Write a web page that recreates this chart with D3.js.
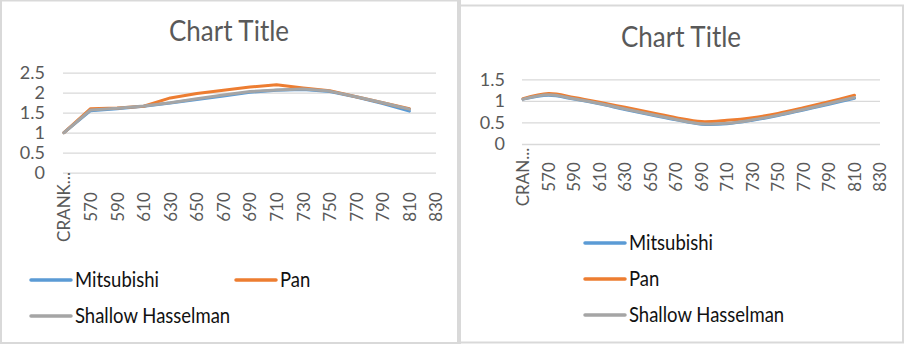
<!DOCTYPE html>
<html>
<head>
<meta charset="utf-8">
<script src="https://cdn.jsdelivr.net/npm/d3@7"></script>
<style>
  body { margin: 0; background: #fff; }
  svg text { font-family: Lato, "Open Sans", sans-serif; }
</style>
</head>
<body>
<svg id="chart" width="906" height="344"></svg>
<script>
// x categories (830 has no value)
var categories = ["CRANK", "570", "590", "610", "630", "650", "670", "690", "710", "730", "750", "770", "790", "810", "830"];
var leftTickLabels = ["CRANK...", "570", "590", "610", "630", "650", "670", "690", "710", "730", "750", "770", "790", "810", "830"];
var rightTickLabels = ["CRAN...", "570", "590", "610", "630", "650", "670", "690", "710", "730", "750", "770", "790", "810", "830"];

var seriesNames = ["Mitsubishi", "Pan", "Shallow Hasselman"];
var seriesColors = ["#5b9bd5", "#ed7d31", "#a5a5a5"];

// left chart values
var mitsubishiLeft = [1.00, 1.55, 1.60, 1.66, 1.74, 1.83, 1.92, 2.01, 2.06, 2.08, 2.03, 1.89, 1.73, 1.54];
var panLeft        = [1.00, 1.60, 1.62, 1.66, 1.87, 1.98, 2.06, 2.14, 2.20, 2.12, 2.05, 1.90, 1.75, 1.60];
var shallowLeft    = [1.00, 1.57, 1.61, 1.67, 1.75, 1.85, 1.94, 2.03, 2.07, 2.09, 2.04, 1.90, 1.75, 1.59];
var leftYTicks = [0, 0.5, 1, 1.5, 2, 2.5];

// right chart values
var mitsubishiRight = [1.04, 1.13, 1.04, 0.93, 0.80, 0.68, 0.56, 0.46, 0.47, 0.55, 0.66, 0.79, 0.92, 1.06];
var panRight        = [1.05, 1.17, 1.08, 0.97, 0.85, 0.73, 0.61, 0.52, 0.55, 0.61, 0.71, 0.84, 0.98, 1.13];
var shallowRight    = [1.04, 1.14, 1.05, 0.94, 0.81, 0.69, 0.57, 0.47, 0.48, 0.56, 0.67, 0.80, 0.94, 1.08];
var rightYTicks = [0, 0.5, 1, 1.5];

var svg = d3.select("#chart");
var borderColor = "#d9d9d9";

// panel borders
svg.append("rect").attr("x", 1).attr("y", 0.5).attr("width", 457).attr("height", 342.5)
  .attr("fill", "none").attr("stroke", borderColor).attr("stroke-width", 2);
svg.append("rect").attr("x", 460).attr("y", 5.5).attr("width", 443).attr("height", 337)
  .attr("fill", "none").attr("stroke", borderColor).attr("stroke-width", 2);
svg.append("rect").attr("x", 457).attr("y", 0).attr("width", 4).attr("height", 344).attr("fill", borderColor);

function drawChart(opts) {
  var g = svg.append("g");

  var x = d3.scalePoint().domain(categories).range(opts.xRange);
  var y = d3.scaleLinear().domain(opts.yDomain).range(opts.yRange);

  // title (text in the picture is a bit taller than wide)
  g.append("text")
    .attr("transform", `translate(${opts.titleX},${opts.titleY}) scale(1,1.12)`)
    .attr("text-anchor", "middle")
    .attr("font-size", 26)
    .attr("fill", "#595959")
    .text("Chart Title");

  // y axis with gridlines
  var yAxis = g.append("g")
    .attr("transform", `translate(${opts.xRange[0] - 1},0)`)
    .call(d3.axisLeft(y).tickValues(opts.yTicks).tickFormat(d3.format("~g"))
      .tickSize(-(opts.xRange[1] - opts.xRange[0] + 1)).tickPadding(opts.yPad));
  yAxis.select(".domain").remove();
  yAxis.selectAll("line").attr("stroke", borderColor).attr("stroke-width", 1.3);
  yAxis.selectAll("text").attr("font-size", 18).attr("fill", "#595959").attr("font-family", null);

  // x axis labels, rotated
  var xAxis = g.append("g")
    .attr("transform", `translate(0,${opts.labelY})`)
    .call(d3.axisBottom(x).tickSize(0).tickPadding(0).tickFormat((d, i) => opts.tickLabels[i]));
  xAxis.select(".domain").remove();
  xAxis.selectAll("text")
    .attr("font-size", 17).attr("fill", "#595959").attr("font-family", null)
    .attr("y", 0).attr("dy", "0.35em")
    .attr("transform", "rotate(-90)")
    .style("text-anchor", "middle");

  // lines
  var line = d3.line()
    .x((d, i) => x(categories[i]))
    .y(d => y(d))
    .curve(opts.curve);

  opts.series.forEach(function (vals, i) {
    g.append("path")
      .attr("d", line(vals))
      .attr("fill", "none")
      .attr("stroke", seriesColors[i])
      .attr("stroke-width", 3)
      .attr("stroke-linejoin", "round")
      .attr("stroke-linecap", "round");
  });

  // legend
  var legend = g.selectAll(".legend")
    .data(seriesNames)
    .enter().append("g")
    .attr("transform", (d, i) => `translate(${opts.legendPos[i][0]},${opts.legendPos[i][1]})`);

  legend.append("line")
    .attr("x1", 0).attr("x2", 40)
    .attr("stroke", (d, i) => seriesColors[i])
    .attr("stroke-width", 3.5)
    .attr("stroke-linecap", "round");

  legend.append("text")
    .attr("transform", "translate(44,0) scale(1,1.12)")
    .attr("dy", "0.35em")
    .attr("font-size", 18.5)
    .attr("fill", "#111")
    .text(d => d);
}

drawChart({
  xRange: [64, 436],
  yDomain: [0, 2.5],
  yRange: [172.7, 72.7],
  yTicks: leftYTicks,
  yPad: 18,
  titleX: 229, titleY: 40.5,
  labelY: 207,
  tickLabels: leftTickLabels,
  curve: d3.curveLinear,
  series: [mitsubishiLeft, panLeft, shallowLeft],
  legendPos: [[31, 280], [236, 280], [31, 316]]
});

drawChart({
  xRange: [523, 880],
  yDomain: [0, 1.5],
  yRange: [144, 79.3],
  yTicks: rightYTicks,
  yPad: 17,
  titleX: 681, titleY: 46.5,
  labelY: 177,
  tickLabels: rightTickLabels,
  curve: d3.curveCatmullRom,
  series: [mitsubishiRight, panRight, shallowRight],
  legendPos: [[585, 243], [585, 279], [585, 315]]
});
</script>
</body>
</html>
